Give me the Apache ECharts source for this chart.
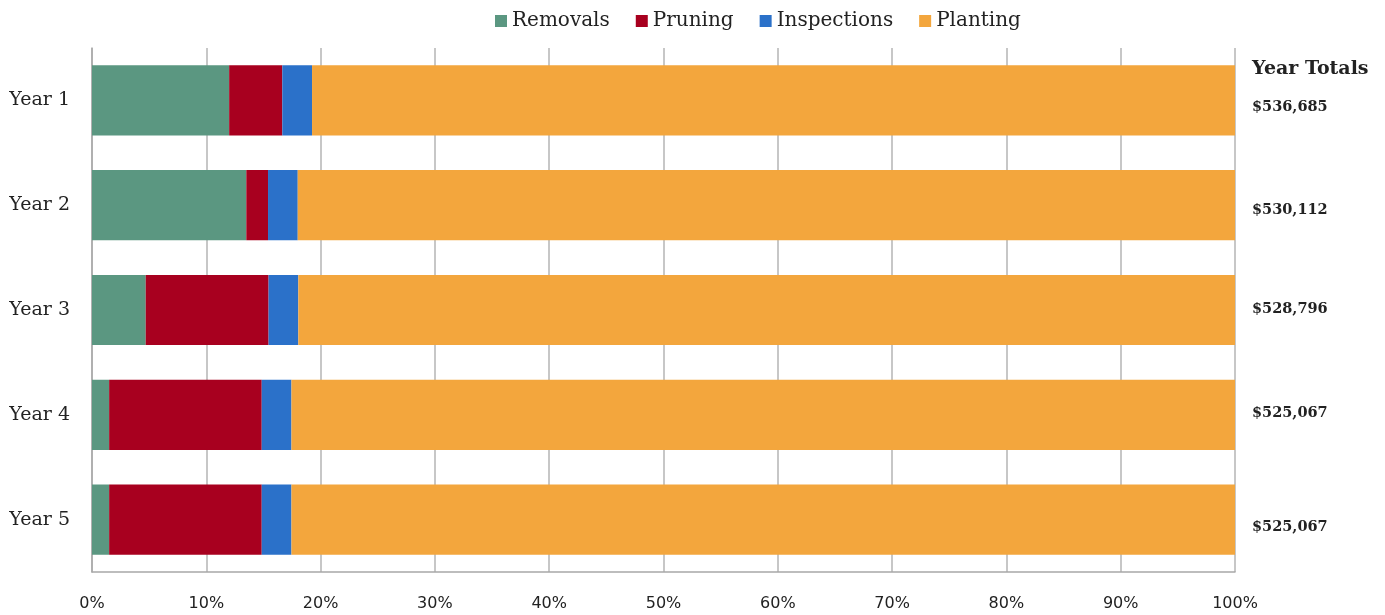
<!DOCTYPE html>
<html>
<head>
<meta charset="utf-8">
<script src="https://cdn.jsdelivr.net/npm/echarts@6/dist/echarts.min.js"></script>
<style>
  html, body { margin: 0; padding: 0; background: #ffffff; }
  #chart { width: 1385px; height: 615px; }
</style>
</head>
<body>
<div id="chart"></div>
<script>
// Share of each year's budget by activity (percent of the year total)
const years = ['Year 1', 'Year 2', 'Year 3', 'Year 4', 'Year 5'];
const removals = [12.0, 13.5, 4.7, 1.5, 1.5];
const pruning = [4.65, 1.9, 10.75, 13.35, 13.35];
const inspections = [2.6, 2.6, 2.6, 2.6, 2.6];
const planting = [80.75, 82.0, 81.95, 82.55, 82.55];
const yearTotals = ['$536,685', '$530,112', '$528,796', '$525,067', '$525,067'];

// vertical nudge of each total beside its bar
const totalShift = [7, 5, -1, -2, 8];

const serif = '"DejaVu Serif", "Liberation Serif", serif';
const sans = '"DejaVu Sans", "Noto Sans", sans-serif';

const chart = echarts.init(document.getElementById('chart'));

function barSeries(name, values, color, extra) {
  return Object.assign({
    name: name,
    type: 'bar',
    stack: 'share',
    data: values,
    barCategoryGap: '33%',
    itemStyle: { color: color },
    emphasis: { disabled: true }
  }, extra || {});
}

chart.setOption({
  animation: false,
  legend: {
    top: 6,
    left: 490,
    itemWidth: 12,
    itemHeight: 12,
    itemGap: 26,
    icon: 'rect',
    textStyle: { fontFamily: serif, fontSize: 20, color: '#222' },
    data: ['Removals', 'Pruning', 'Inspections', 'Planting']
  },
  grid: { left: 92, right: 150, top: 48, bottom: 43, containLabel: false },
  xAxis: {
    type: 'value',
    min: 0,
    max: 100,
    interval: 10,
    axisLine: { show: true, lineStyle: { color: '#a8a8a8', width: 1.5 } },
    axisTick: { show: false },
    splitLine: { show: true, lineStyle: { color: '#b4b4b4', width: 1.5 } },
    axisLabel: {
      formatter: '{value}%',
      fontFamily: sans,
      fontSize: 16,
      color: '#222',
      margin: 24
    }
  },
  yAxis: {
    type: 'category',
    inverse: true,
    data: years,
    axisLine: { show: true, lineStyle: { color: '#a8a8a8', width: 1.5 } },
    axisTick: { show: false },
    axisLabel: { fontFamily: serif, fontSize: 19, color: '#222', margin: 22 }
  },
  graphic: [{
    type: 'text',
    left: 1252,
    top: 60,
    style: {
      text: 'Year Totals',
      font: 'bold 19px ' + serif,
      fill: '#222'
    }
  }],
  series: [
    barSeries('Removals', removals, '#5b9781'),
    barSeries('Pruning', pruning, '#a8001f'),
    barSeries('Inspections', inspections, '#2b71c9'),
    barSeries('Planting', planting.map(function (v, i) {
      return { value: v, label: { offset: [0, totalShift[i]] } };
    }), '#f3a63d', {
      label: {
        show: true,
        position: 'right',
        distance: 17,
        formatter: function (p) { return yearTotals[p.dataIndex]; },
        fontFamily: serif,
        fontWeight: 'bold',
        fontSize: 14.5,
        color: '#222'
      }
    })
  ]
});
</script>
</body>
</html>
